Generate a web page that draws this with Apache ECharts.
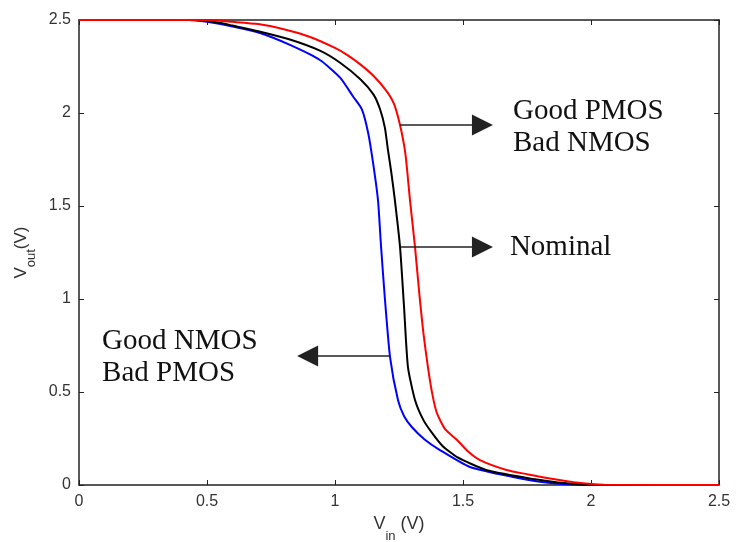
<!DOCTYPE html>
<html><head><meta charset="utf-8">
<script src="https://cdn.jsdelivr.net/npm/echarts@6/dist/echarts.min.js"></script>
<style>html,body{margin:0;padding:0;background:#fff}#c{width:736px;height:542px}</style>
</head><body><div id="c"></div>
<script>
// ---- data ----
const redX  = [0, 0.5, 0.6, 0.7, 0.8, 0.9, 1.0, 1.05, 1.1, 1.15, 1.2, 1.23, 1.254, 1.275, 1.293, 1.3125, 1.33, 1.345, 1.363, 1.38, 1.398, 1.43, 1.477, 1.52, 1.566, 1.67, 1.75, 1.84, 1.95, 2.05, 2.5];
const redY  = [2.5, 2.5, 2.49, 2.478, 2.45, 2.41, 2.35, 2.31, 2.26, 2.2, 2.12, 2.05, 1.935, 1.78, 1.53, 1.28, 1.02, 0.82, 0.634, 0.49, 0.387, 0.3, 0.242, 0.18, 0.134, 0.081, 0.058, 0.035, 0.012, 0.002, 0];
const nomX  = [0, 0.45, 0.55, 0.6, 0.7, 0.824, 0.941, 1.02, 1.1, 1.15, 1.176, 1.195, 1.207, 1.22, 1.234, 1.254, 1.27, 1.285, 1.3125, 1.345, 1.379, 1.42, 1.477, 1.59, 1.75, 1.85, 1.95, 2.0, 2.5];
const nomY  = [2.5, 2.5, 2.485, 2.47, 2.44, 2.395, 2.335, 2.27, 2.18, 2.1, 2.02, 1.92, 1.8, 1.68, 1.53, 1.28, 0.95, 0.634, 0.457, 0.35, 0.28, 0.21, 0.15, 0.081, 0.038, 0.018, 0.004, 0, 0];
const blueX = [0, 0.43, 0.5, 0.6, 0.707, 0.824, 0.941, 1.02, 1.07, 1.105, 1.13, 1.15, 1.168, 1.18, 1.195, 1.215, 1.246, 1.27, 1.3, 1.35, 1.41, 1.527, 1.695, 1.8, 1.9, 2.0, 2.5];
const blueY = [2.5, 2.5, 2.49, 2.465, 2.43, 2.366, 2.285, 2.19, 2.09, 2.02, 1.89, 1.72, 1.53, 1.28, 1.0, 0.688, 0.457, 0.37, 0.312, 0.245, 0.188, 0.097, 0.043, 0.018, 0.004, 0, 0];
const xTicks = [0, 0.5, 1, 1.5, 2, 2.5];
const yTicks = [0, 0.5, 1, 1.5, 2, 2.5];
// annotations: arrow from curve point to arrowhead centre, then label
const arrows = [
  {from: [1.254, 1.935], to: [1.576, 1.935]},
  {from: [1.258, 1.28], to: [1.576, 1.28]},
  {from: [1.215, 0.694], to: [0.893, 0.694]}
];
const labels = [
  {text: 'Good PMOS\nBad NMOS', at: [1.695, 1.92]},
  {text: 'Nominal', at: [1.683, 1.28]},
  {text: 'Good NMOS\nBad PMOS', at: [0.09, 0.685]}
];

const zip = (xs, ys) => xs.map((x, i) => [x, ys[i]]);
const chart = echarts.init(document.getElementById('c'), null, {renderer: 'canvas'});
const tickFont = {fontFamily: 'Liberation Sans', fontSize: 16, color: '#333'};
const axisCommon = {
  type: 'value', min: 0, max: 2.5, interval: 0.5,
  axisLine: {show: true, onZero: false, lineStyle: {color: '#222', width: 1.5}},
  axisTick: {show: true, inside: true, length: 5, lineStyle: {color: '#222', width: 1}},
  splitLine: {show: false}
};
chart.setOption({
  animation: false,
  backgroundColor: '#fff',
  grid: {left: 79, right: 17, top: 20, bottom: 57, containLabel: false, outerBoundsMode: 'none'},
  xAxis: [
    Object.assign({}, axisCommon, {
      position: 'bottom',
      axisLabel: Object.assign({margin: 9, formatter: v => xTicks.includes(v) ? String(v) : ''}, tickFont),
      name: '{v|V}{s|in}{v| (V)}', nameLocation: 'middle', nameGap: 30,
      nameTextStyle: {rich: {
        v: {fontFamily: 'Liberation Sans', fontSize: 18, color: '#333', lineHeight: 20, verticalAlign: 'top'},
        s: {fontFamily: 'Liberation Sans', fontSize: 13, color: '#333', lineHeight: 20, padding: [15, 0, 0, 0], verticalAlign: 'top'}
      }}
    }),
    Object.assign({}, axisCommon, {position: 'top', axisLabel: {show: false}})
  ],
  yAxis: [
    Object.assign({}, axisCommon, {
      position: 'left',
      axisLabel: Object.assign({margin: 8, formatter: v => yTicks.includes(v) ? String(v) : ''}, tickFont),
      name: '{v|V}{s|out}{v|(V)}', nameLocation: 'middle', nameGap: 44, nameRotate: 90,
      nameTextStyle: {rich: {
        v: {fontFamily: 'Liberation Sans', fontSize: 17, color: '#333', lineHeight: 20, verticalAlign: 'top'},
        s: {fontFamily: 'Liberation Sans', fontSize: 13, color: '#333', lineHeight: 20, padding: [12, 0, 0, 0], verticalAlign: 'top'}
      }}
    }),
    Object.assign({}, axisCommon, {position: 'right', axisLabel: {show: false}})
  ],
  series: [
    {type: 'line', name: 'Good NMOS Bad PMOS', data: zip(blueX, blueY), showSymbol: false, smooth: 0.2,
     lineStyle: {color: '#0000ff', width: 2}, itemStyle: {color: '#0000ff'}},
    {type: 'line', name: 'Nominal', data: zip(nomX, nomY), showSymbol: false, smooth: 0.2,
     lineStyle: {color: '#000000', width: 2}, itemStyle: {color: '#000'}},
    {type: 'line', name: 'Good PMOS Bad NMOS', data: zip(redX, redY), showSymbol: false, smooth: 0.2,
     lineStyle: {color: '#ff0000', width: 2}, itemStyle: {color: '#ff0000'}},
    {type: 'line', name: 'annotations', data: [], silent: true,
     markLine: {
       silent: true, symbol: ['none', 'triangle'], symbolSize: 21,
       lineStyle: {color: '#222', width: 1.5, type: 'solid'},
       label: {show: false},
       emphasis: {disabled: true},
       data: arrows.map(a => [{coord: a.from}, {coord: a.to}])
     },
     markPoint: {
       silent: true, symbol: 'circle', symbolSize: 0.1, itemStyle: {color: 'rgba(0,0,0,0)'},
       label: {show: true, position: 'right', distance: 0, align: 'left',
         fontFamily: 'Liberation Serif', fontSize: 29, color: '#111', lineHeight: 32,
         formatter: p => p.name},
       data: labels.map(l => ({name: l.text, coord: l.at}))
     }
    }
  ]
});
</script></body></html>
